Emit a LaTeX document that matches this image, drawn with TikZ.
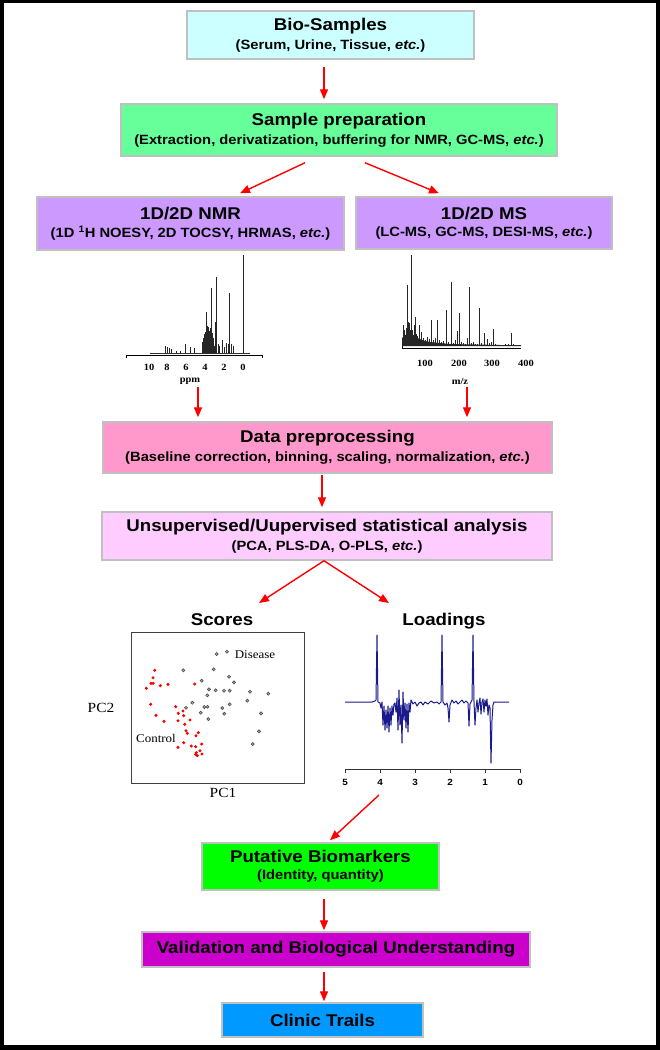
\documentclass[tikz,border=0pt]{standalone}
\usepackage{fontspec}
\setmainfont{Liberation Sans}[FakeStretch=1.1]
\newfontfamily\tnr{Liberation Serif}[FakeStretch=1.1]
\usetikzlibrary{arrows.meta}
\definecolor{cBio}{HTML}{CCFFFF}
\definecolor{cPrep}{HTML}{66FF99}
\definecolor{cLav}{HTML}{CC99FF}
\definecolor{cData}{HTML}{FF99CC}
\definecolor{cUns}{HTML}{FFCCFF}
\definecolor{cPut}{HTML}{00FF00}
\definecolor{cVal}{HTML}{CC00CC}
\definecolor{cCli}{HTML}{0099FF}
\definecolor{cBorder}{HTML}{C0C0C0}
\definecolor{cNavy}{HTML}{1A1A8C}
\newcommand\mytitle{\fontsize{17}{19}\selectfont}
\newcommand\mysub{\fontsize{13.4}{15}\selectfont}
\begin{document}
\begin{tikzpicture}[x=1pt,y=-1pt,
  box/.style={draw=cBorder, line width=1.5pt, inner sep=0pt, align=center, font=\bfseries},
  arr/.style={draw=red, line width=1.4pt, -{Triangle[length=10pt,width=8pt]}},
  plab/.style={font=\tnr\bfseries\fontsize{9.5}{10}\selectfont, inner sep=0pt},
  llab/.style={font=\bfseries\fontsize{9}{10}\selectfont, inner sep=0pt},
  ptitle/.style={font=\bfseries\fontsize{17}{19}\selectfont, inner sep=0pt},
  slab/.style={font=\tnr\fontsize{11.8}{13}\selectfont, inner sep=0pt},
  alab/.style={font=\tnr\fontsize{14}{15}\selectfont, inner sep=0pt},
  spk/.style={line width=0.7pt, black!85},
  gpt/.style={draw=black!75, fill=black!35, line width=0.5pt},
  rpt/.style={fill=red}]
\useasboundingbox (0,0) rectangle (660,1050);
\fill[black] (0,0) rectangle (660,1050);
\fill[white] (4,3) rectangle (656,1045);

% boxes
\node[box, fill=cBio, minimum width=287pt, minimum height=48pt] (bio) at (330.5,35)
  {\mytitle Bio-Samples\\[5pt]\mysub (Serum, Urine, Tissue, \textit{etc.})};
\node[box, fill=cPrep, minimum width=436pt, minimum height=52pt] (prep) at (339,130)
  {\mytitle Sample preparation\\[5pt]\mysub (Extraction, derivatization, buffering for NMR, GC-MS, \textit{etc.})};
\node[box, fill=cLav, minimum width=307pt, minimum height=53pt] (nmr) at (190.5,223.5)
  {\mytitle 1D/2D NMR\\[5pt]\mysub (1D \textsuperscript{1}H NOESY, 2D TOCSY, HRMAS, \textit{etc.})};
\node[box, fill=cLav, minimum width=256pt, minimum height=52pt] (ms) at (484,223)
  {\mytitle 1D/2D MS\\[5pt]\mysub (LC-MS, GC-MS, DESI-MS, \textit{etc.})};
\node[box, fill=cData, minimum width=449pt, minimum height=51pt] (data) at (327.5,447.5)
  {\mytitle Data preprocessing\\[5pt]\mysub (Baseline correction, binning, scaling, normalization, \textit{etc.})};
\node[box, fill=cUns, minimum width=450pt, minimum height=48pt] (uns) at (327,536)
  {\mytitle Unsupervised/Uupervised statistical analysis\\[5pt]\mysub (PCA, PLS-DA, O-PLS, \textit{etc.})};
\node[box, fill=cPut, minimum width=237pt, minimum height=47pt] (put) at (320.5,866.5)
  {\mytitle Putative Biomarkers\\[5pt]\mysub (Identity, quantity)};
\node[box, fill=cVal, minimum width=388pt, minimum height=35pt] (val) at (336,949.5)
  {\mytitle Validation and Biological Understanding};
\node[box, fill=cCli, minimum width=201pt, minimum height=34pt] (cli) at (322.5,1020)
  {\mytitle Clinic Trails};

% NMR spectrum
\draw[line width=0.6pt] (126,358) -- (126,355.7) -- (262,355.7) -- (262,358);
\draw[line width=0.5pt, black!80] (150,353) -- (250,353);
\foreach \x/\t in {243/255,216.7/277,211/288,229/293,206.7/312,215.7/322,
  202/346,202.5/342,203/340,203.5/338,204/336,204.5/334,205/332,205.5/333,206/330,
  207/328,207.5/326,208/327,208.5/329,209/331,209.5/334,210/330,210.5/328,211.5/290,
  212/333,212.5/335,213/338,213.5/342,214/346,218/344,219/346,222/340,224/347,226/343,
  228/344,231/344,233/346,165.7/346,167/347,169/348,171/349,185.7/344,190/347,194/347.7,
  176/351,180/351}
  \draw[spk] (\x,353) -- (\x,\t);
\foreach \v/\x in {10/149,8/167,6/186,4/205,2/224,0/243}
  \node[plab] (nt\v) at (\x,367) {\v};
\node[plab] (ppm) at (190,381) {ppm};

% MS spectrum
\draw[line width=0.6pt] (402,345) -- (402,348) -- (521,348);
\fill[black!85] (402,346) -- (402,338) -- (405,335) -- (410,334) -- (415,337) -- (420,339)
  -- (425,341) -- (430,342) -- (440,343) -- (450,344) -- (500,345) -- (521,345) -- (521,346) -- cycle;
\foreach \x/\t in {403/325,404/330,405/335,406/328,407/285,408/322,409/323,410/330,411/255,
  412/330,413/335,414/325,415/317,416/334,417/336,419/325,421/332,423/338,425/340,427/337,
  429/339,431/320,433/340,435/338,437/320,439/340,441/342,443/341,446/310,448/342,451/282,
  453/343,455/340,457/331,459/313,461/342,463/343,465/344,467/338,469/287,471/343,473/342,
  475/344,477/344,479/308,481/343,484/333,487/339,489/343,491/342,493/329,495/344,498/345,
  500/345,505/344,508/344,511/333,513/344,516/345}
  \draw[spk] (\x,346) -- (\x,\t);
\foreach \v/\x in {100/425,200/459,300/492,400/526}
  \node[plab] (mt\v) at (\x,363) {\v};
\node[plab] (mz) at (460,381) {m/z};

% Scores plot
\node[ptitle] (scT) at (222,620) {Scores};
\node[draw=black!75, line width=1pt, minimum width=173pt, minimum height=151pt, inner sep=0pt] (sbox) at (217.5,707.5) {};
\foreach \x/\y in {216.7/654,227/651.7,183.3/670.3,213.7/669.3,229/676.7,234/682.3,201.7/680.7,
  209/689.3,215.7/690.3,224/690.7,229.7/690.7,250/691.7,268.3/693.7,207.3/695.3,247.3/700.7,
  192.3/702.7,229.7/704.3,204.3/707,207.5/706.7,186/707.7,222.3/708,200.7/712.7,224.3/713.7,
  261/713.3,208.3/719,259/731.3,252.7/744}
  \filldraw[gpt] (\x,\y) circle (1.6pt);
\foreach \x/\y in {154.7/670.3,153/677.7,151/683.3,153.2/683.3,146.3/688.3,160.3/685.7,168/684.3,
  194.7/684,150.7/704.3,156/715.3,175.7/706.7,183/711,178.3/713.3,183.7/715.7,164/721.3,
  178/720.7,190/720,184.7/724.3,186/730.7,187.3/733.3,198.3/732.7,196/735.7,183.7/742.7,
  178/747.3,191.3/746,195.7/746.7,201.7/744,200/750.7,195.7/754.3,197.3/755.7,202/754,196.3/752.7}
  \fill[rpt] (\x,\y) circle (1.7pt);
\node[slab] (dis) at (255,655) {Disease};
\node[slab] (con) at (156,738) {Control};
\node[alab] (pc2) at (101,708) {PC2};
\node[alab] (pc1) at (223,793) {PC1};

% Loadings plot
\node[ptitle] (loT) at (444,621) {Loadings};
\draw[cNavy, line width=1pt, line join=round] plot coordinates {(345,702) (372,702) (375,701) (376,700)
  (377,635) (378,702) (380,703) (381,708) (382,702) (383,725) (384,706) (385,730) (386,710)
  (387,728) (388,706) (389,732) (390,708) (391,725) (392,706) (393,715) (394,704) (395,703)
  (396,712) (397,698) (398,730) (399,690) (400,725) (401,705) (402,743) (403,692) (404,720)
  (405,703) (406,728) (407,704) (408,732) (409,703) (410,712) (411,700) (413,704) (415,702)
  (417,706) (419,703) (421,702) (423,705) (425,702) (428,704) (431,701) (434,703) (437,702)
  (439,704) (441,702) (442,635) (443,702) (445,705) (447,703) (448,708) (449,722) (450,705)
  (452,700) (454,703) (456,701) (458,704) (460,702) (462,700) (464,703) (466,701) (468,703)
  (469,726) (470,704) (472,700) (473,635) (474,702) (475,725) (476,708) (477,700) (478,712)
  (479,703) (480,698) (481,714) (482,702) (483,699) (484,712) (485,700) (486,706) (487,699)
  (488,715) (489,705) (490,708) (491,763) (492,720) (493,705) (494,702) (509,702)};
\draw[line width=1pt, black!80] (345,769) -- (520,769);
\foreach \x in {345,380,415,450,485,520} \draw[line width=1pt, black!80] (\x,769) -- (\x,773);
\foreach \v/\x in {5/345,4/380,3/415,2/450,1/485,0/520}
  \node[llab] (lt\v) at (\x,782) {\v};

% connectors
\coordinate (scA) at (259,603);
\coordinate (loA) at (389,603);
\coordinate (l4) at (379,795);
\draw[arr] ([xshift=-6.5pt,yshift=-7pt]bio.south) -- ([xshift=-15pt,yshift=4pt]prep.north);
\draw[arr] ([xshift=-34pt,yshift=-6pt]prep.south) -- ([xshift=49.5pt,yshift=3pt]nmr.north);
\draw[arr] ([xshift=26pt,yshift=-6pt]prep.south) -- ([xshift=-45pt,yshift=3pt]ms.north);
\draw[arr] ([xshift=8pt,yshift=-3pt]ppm.south) -- ([xshift=-129.5pt,yshift=4pt]data.north);
\draw[arr] ([xshift=7pt,yshift=-3pt]mz.south) -- ([xshift=139.5pt,yshift=4pt]data.north);
\draw[arr] ([xshift=-5.5pt,yshift=-1pt]data.south) -- ([xshift=-5pt,yshift=4pt]uns.north);
\draw[arr] ([xshift=-3pt]uns.south) -- (scA);
\draw[arr] ([xshift=-3pt]uns.south) -- (loA);
\draw[arr] (l4) -- ([xshift=9.5pt,yshift=2pt]put.north);
\draw[arr] ([xshift=3.5pt,yshift=-8pt]put.south) -- ([xshift=-12pt,yshift=1pt]val.north);
\draw[arr] ([xshift=-12pt,yshift=-4pt]val.south) -- ([xshift=1.5pt,yshift=1pt]cli.north);
\end{tikzpicture}
\end{document}
